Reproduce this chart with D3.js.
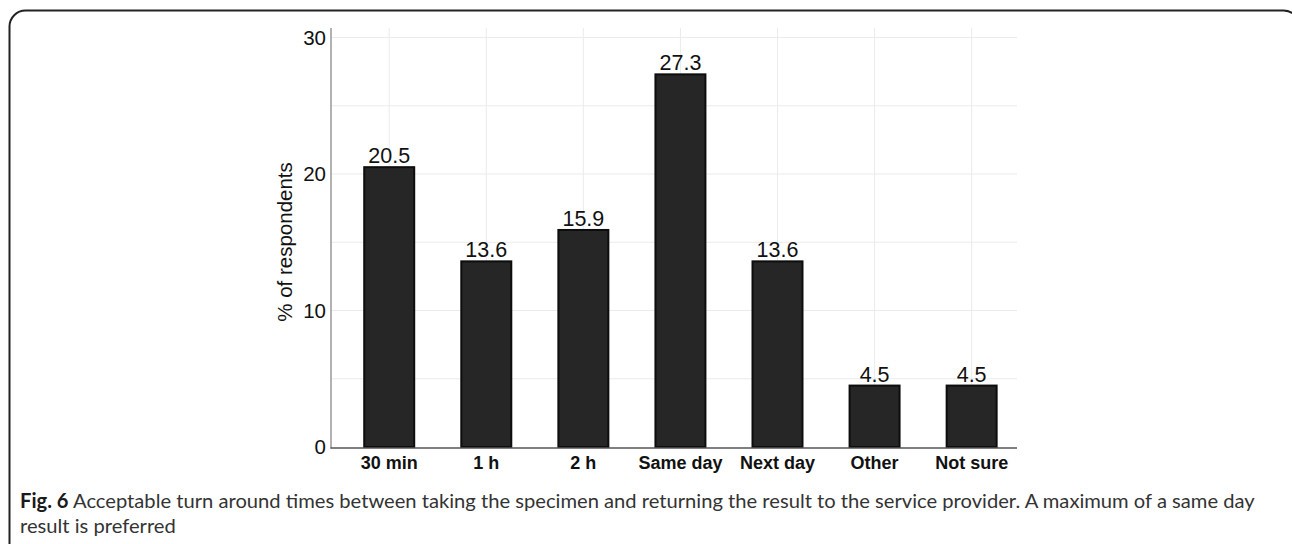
<!DOCTYPE html>
<html>
<head>
<meta charset="utf-8">
<script src="https://cdn.jsdelivr.net/npm/d3@7"></script>
<style>
  html, body { margin: 0; padding: 0; background: #fff; }
  svg { display: block; }
</style>
</head>
<body>
<svg id="chart" width="1292" height="544"></svg>
<script>
// ---- data ----
const categories = ["30 min", "1 h", "2 h", "Same day", "Next day", "Other", "Not sure"];
const values = [20.5, 13.6, 15.9, 27.3, 13.6, 4.5, 4.5];
const yTicks = [0, 10, 20, 30];
const yGrid = [5, 10, 15, 20, 25, 30];
const yTitle = "% of respondents";
const captionBold = "Fig. 6";
const captionLine1 = " Acceptable turn around times between taking the specimen and returning the result to the service provider. A maximum of a same day";
const captionLine2 = "result is preferred";

const svg = d3.select("#chart");

// frame
svg.append("rect")
  .attr("x", 9.5).attr("y", 10.5)
  .attr("width", 1290).attr("height", 600)
  .attr("rx", 16).attr("ry", 16)
  .attr("fill", "none").attr("stroke", "#222").attr("stroke-width", 2);

const xLeft = 331, xRight = 1017;
const x = d3.scaleBand().domain(categories).range([xLeft, xRight])
  .paddingInner(0.485).paddingOuter(0.276).align(0.62);
const y = d3.scaleLinear().domain([0, 30]).range([447, 37.5]);

// grid
const g = svg.append("g");
g.selectAll("line.hg").data(yGrid).enter().append("line")
  .attr("x1", xLeft).attr("x2", xRight)
  .attr("y1", d => y(d)).attr("y2", d => y(d))
  .attr("stroke", "#ebebeb").attr("stroke-width", 1);
g.selectAll("line.vg").data(categories).enter().append("line")
  .attr("x1", d => x(d) + x.bandwidth() / 2).attr("x2", d => x(d) + x.bandwidth() / 2)
  .attr("y1", 28).attr("y2", 447)
  .attr("stroke", "#ebebeb").attr("stroke-width", 1);

// bars
svg.selectAll("rect.bar").data(values).enter().append("rect")
  .attr("class", "bar")
  .attr("x", (d, i) => x(categories[i]))
  .attr("y", d => y(d))
  .attr("width", x.bandwidth())
  .attr("height", d => y(0) - y(d))
  .attr("fill", "#262626").attr("stroke", "#0d0d0d").attr("stroke-width", 2);

// value labels
svg.selectAll("text.val").data(values).enter().append("text")
  .attr("x", (d, i) => x(categories[i]) + x.bandwidth() / 2)
  .attr("y", d => y(d) - 4)
  .attr("text-anchor", "middle")
  .attr("font-family", "Liberation Sans, Arial, sans-serif")
  .attr("font-size", 21.5).attr("fill", "#111")
  .text(d => d.toFixed(1));

// axes lines
svg.append("line").attr("x1", xLeft).attr("x2", xLeft).attr("y1", 28).attr("y2", 448.5)
  .attr("stroke", "#999").attr("stroke-width", 1.5);
svg.append("line").attr("x1", xLeft - 0.5).attr("x2", xRight).attr("y1", 448).attr("y2", 448)
  .attr("stroke", "#555").attr("stroke-width", 1.5);

// y axis tick labels via d3 axis
const yAxis = d3.axisLeft(y).tickValues(yTicks).tickSize(0).tickPadding(5).tickFormat(d3.format("d"));
const ya = svg.append("g").attr("transform", `translate(${xLeft},0)`).call(yAxis);
ya.select(".domain").remove();
ya.selectAll("text").attr("font-family", "Liberation Sans, Arial, sans-serif")
  .attr("font-size", 20.5).attr("fill", "#111");

// x axis labels via d3 axis
const xAxis = d3.axisBottom(x).tickSize(0).tickPadding(8);
const xa = svg.append("g").attr("transform", `translate(0,448)`).call(xAxis);
xa.select(".domain").remove();
xa.selectAll("text").attr("font-family", "Liberation Sans, Arial, sans-serif")
  .attr("font-size", 18).attr("font-weight", "bold").attr("fill", "#111");

// y title
svg.append("text")
  .attr("transform", "translate(292,242) rotate(-90)")
  .attr("text-anchor", "middle")
  .attr("font-family", "Liberation Sans, Arial, sans-serif")
  .attr("font-size", 20.5).attr("fill", "#111")
  .text(yTitle);

// caption
const capFs = 20;
const capG = svg.append("g");
const cap = capG.append("text").attr("x", 0).attr("y", 508)
  .attr("font-family", "Lato, sans-serif").attr("font-size", capFs).attr("fill", "#333");
cap.append("tspan").attr("font-weight", "bold").attr("fill", "#1a1a1a").text(captionBold);
cap.append("tspan").text(captionLine1);
const cap2 = capG.append("text").attr("x", 0).attr("y", 533)
  .attr("font-family", "Lato, sans-serif").attr("font-size", capFs).attr("fill", "#333")
  .text(captionLine2);
const targetW = 1255 - 20;
const w = cap.node().getComputedTextLength();
const sx = targetW / w;
capG.attr("transform", `translate(20,0) scale(${sx},1)`);
</script>
</body>
</html>
